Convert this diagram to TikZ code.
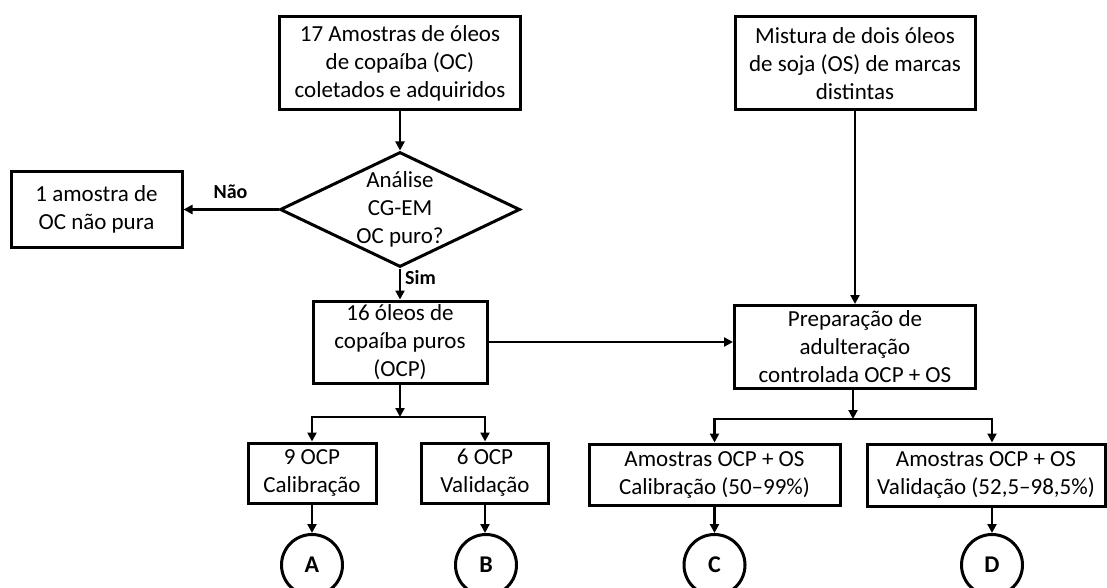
\documentclass[tikz,border=0pt]{standalone}
\usepackage{fontspec}
\setmainfont{Carlito}
\usetikzlibrary{shapes.geometric,arrows.meta}
\begin{document}
\begin{tikzpicture}[x=1pt,y=-1pt,
  box/.style={draw,line width=3pt,inner sep=0pt,align=center,font=\fontsize{23}{28}\selectfont},
  txt/.style={inner sep=0pt,align=center,font=\fontsize{23}{28}\selectfont},
  lbl/.style={inner sep=0pt,font=\bfseries\fontsize{20}{22}\selectfont},
  conn/.style={line width=2.7pt},
  arr/.style={conn,-{Triangle[length=9pt,width=9pt]}},
  term/.style={draw,circle,line width=3pt,minimum size=61pt,inner sep=0pt,font=\bfseries\fontsize{24}{26}\selectfont}]
\useasboundingbox (0,0) rectangle (1107,588);

\node[box,minimum width=241pt,minimum height=93pt] (top) at (400,63.5) {17 Amostras de óleos\\de copaíba (OC)\\coletados e adquiridos};
\node[box,minimum width=240pt,minimum height=93pt] (mix) at (855,63.5) {Mistura de dois óleos\\de soja (OS) de marcas\\distintas};
\node[draw,diamond,line width=3pt,minimum width=240pt,minimum height=115pt,inner sep=0pt] (dec) at (400,209.5) {};
\node[txt] (dectext) at (dec.center) {Análise\\CG-EM\\OC puro?};
\node[box,minimum width=171pt,minimum height=75pt] (left) at (96.5,209.5) {1 amostra de\\OC não pura};
\node[box,minimum width=174pt,minimum height=82pt] (b16) at (400,342) {16 óleos de\\copaíba puros\\(OCP)};
\node[box,minimum width=241pt,minimum height=83pt] (prep) at (855,347) {Preparação de\\adulteração\\controlada OCP + OS};
\node[box,minimum width=128pt,minimum height=60pt] (b9) at (312,473) {9 OCP\\Calibração};
\node[box,minimum width=127pt,minimum height=60pt] (b6) at (485,473) {6 OCP\\Validação};
\node[box,minimum width=251pt,minimum height=61pt] (bC) at (714.5,474.5) {Amostras OCP + OS\\Calibração (50–99\%)};
\node[box,minimum width=238pt,minimum height=62pt] (bD) at (986,475) {Amostras OCP + OS\\Validação (52,5–98,5\%)};
\node[term] (A) at (312,565) {A};
\node[term] (B) at (486,565) {B};
\node[term] (C) at (714.5,565) {C};
\node[term] (D) at (992,565) {D};
\node[lbl] (nao) at (230.5,192) {Não};
\node[lbl,anchor=west] (sim) at (405,278) {Sim};

\coordinate (jl) at (400,417);
\coordinate (jr) at (853,419);

\draw[arr] (top) -- (dec);
\draw[arr] (dec.west) -- (left.east);
\draw[arr] (dec.south) -- (b16.north);
\draw[arr] (mix.south) -- (prep.north);
\draw[arr] (b16.east) -- (b16.east -| prep.west);
\draw[arr] (b16.south) -- (jl);
\draw[arr] (jl) -| (b9.north);
\draw[arr] (jl) -| (b6.north);
\draw[arr] (prep.south -| jr) -- (jr);
\draw[arr] (jr) -| (bC.north);
\draw[arr] (jr) -| (bD.north -| D);
\draw[arr] (b9) -- (A);
\draw[arr] (b6) -- (b6.south |- B.north);
\draw[arr] (bC) -- (C);
\draw[arr] (bD.south -| D) -- (D);
\end{tikzpicture}
\end{document}
